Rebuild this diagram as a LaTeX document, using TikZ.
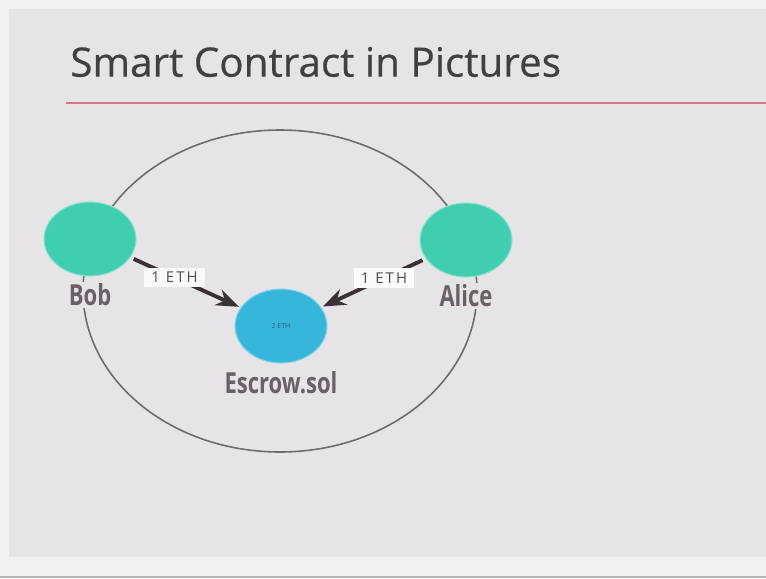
\documentclass[tikz,border=0pt]{standalone}
\usepackage{fontspec}
\setmainfont{Open Sans}
\newfontfamily\titlefont[FakeBold=0.5]{Open Sans}
\newfontfamily\namefont[FakeStretch=0.76]{Open Sans}
\newfontfamily\tagfont[LetterSpace=14]{Open Sans}
\usepackage{xcolor}
\usetikzlibrary{arrows.meta,positioning,shapes.geometric}

\definecolor{frame}{RGB}{241,240,242}
\definecolor{panel}{RGB}{230,228,230}
\definecolor{rule}{RGB}{214,118,128}
\definecolor{party}{RGB}{64,207,174}
\definecolor{escrow}{RGB}{54,182,218}
\definecolor{ink}{RGB}{107,95,105}
\definecolor{flow}{RGB}{59,48,53}

\begin{document}
\begin{tikzpicture}[x=0.02cm, y=-0.02cm, >=Stealth,
    who/.style={ellipse, fill=party, draw=party!60!white, line width=0.6pt,
      minimum width=1.84cm, minimum height=1.48cm},
    pot/.style={who, fill=escrow, draw=escrow!60!white},
    whoname/.style={font=\namefont\bfseries\fontsize{16.5}{18}\selectfont, text=ink,
      fill=panel, inner sep=1pt},
    tag/.style={font=\tagfont\fontsize{8.5}{10}\selectfont, text=ink!80!black,
      fill=white!80!panel, inner xsep=4pt, inner ysep=2.5pt},
    pay/.style={->, draw=flow, line width=2.2pt, shorten <=2pt, shorten >=1pt}]
    \useasboundingbox (0,0) rectangle (766,578);

    % slide background
    \fill[frame] (0,0) rectangle (766,578);
    \fill[panel] (9,9) rectangle (766,557);
    \draw[gray!60, line width=1pt] (0,577) -- (766,577);

    \node[anchor=west, inner sep=0pt, text=black!75, font=\titlefont\fontsize{23}{27}\selectfont] (T) at (70,62) {Smart Contract in Pictures};
    \draw[rule, line width=1.3pt] (66,103) -- (766,103);

    \coordinate (B) at (90,239);
    \coordinate (A) at (466,240);
    \coordinate (E) at (281,326);

    \draw[gray!85!black, line width=0.9pt] (280,291) ellipse [x radius=197, y radius=161];

    \node[who] (Bob) at (B) {};
    \node[who] (Alice) at (A) {};
    \node[pot] (Esc) at (E) {\fontsize{4}{5}\selectfont\color{escrow!55!black}2 ETH};

    \node[whoname, below=0.1cm of Bob] (BobName) {Bob};
    \node[whoname, below=0.1cm of Alice] (AliceName) {Alice};
    \node[whoname, below=0.12cm of Esc] (EscName) {Escrow.sol};

    \draw[pay] (Bob) -- (Esc) node[pos=.4, tag] {1 ETH};
    \draw[pay] (Alice) -- (Esc) node[pos=.4, tag] {1 ETH};

\end{tikzpicture}
\end{document}
